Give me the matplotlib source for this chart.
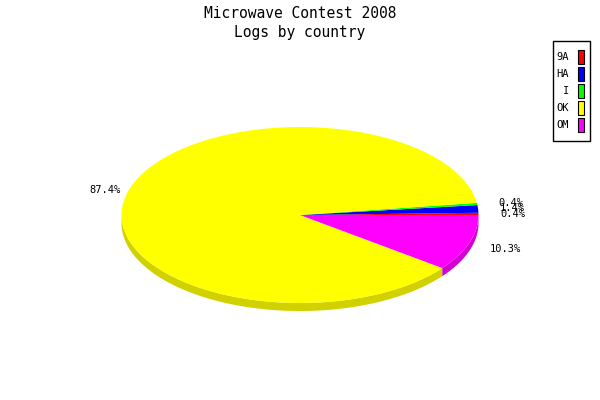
import numpy as np
import matplotlib.pyplot as plt
from matplotlib.patches import Polygon, Rectangle

# chart data
title_lines = ["Microwave Contest 2008", "Logs by country"]
countries = ["9A", "HA", "I", "OK", "OM"]
shares = [0.4, 1.4, 0.4, 87.4, 10.3]
colors = ["#ff0000", "#0000ff", "#00ff00", "#ffff00", "#ff00ff"]

MONO = "DejaVu Sans Mono"


def darker(hexcol, k=0.82):
    r, g, b = (int(hexcol[i:i + 2], 16) / 255 for i in (1, 3, 5))
    return (r * k, g * k, b * k)


fig = plt.figure(figsize=(6, 4), dpi=100)
ax = fig.add_axes([0, 0, 1, 1])
ax.set_xlim(0, 600)
ax.set_ylim(400, 0)
ax.axis("off")

# ellipse geometry of the 3d pie
cx, cy, rx, ry, depth = 300, 215, 178.5, 88, 8

total = sum(shares)
bounds = np.concatenate([[0], np.cumsum(shares) / total * 360])


def arc(a1, a2, dy=0):
    t = np.radians(np.linspace(a1, a2, max(int(abs(a2 - a1) * 2), 2)))
    return np.column_stack([cx + rx * np.cos(t), cy - ry * np.sin(t) + dy])


# side walls first (only the front half, 180..360 deg, is visible)
for i, col in enumerate(colors):
    a1, a2 = max(bounds[i], 180), min(bounds[i + 1], 360)
    if a2 <= a1:
        continue
    top = arc(a1, a2)
    bot = arc(a1, a2, depth)[::-1]
    ax.add_patch(Polygon(np.vstack([top, bot]), closed=True,
                         fc=darker(col), ec="none", zorder=2))

# top faces
for i, col in enumerate(colors):
    pts = np.vstack([[cx, cy], arc(bounds[i], bounds[i + 1])])
    ax.add_patch(Polygon(pts, closed=True, fc=col, ec="none", zorder=3))

# percentage labels, left aligned on the right side and vice versa
for i, s in enumerate(shares):
    mid = np.radians((bounds[i] + bounds[i + 1]) / 2)
    right = np.cos(mid) > 0
    fx = 1.12 if right else 1.04
    lx = cx + fx * rx * np.cos(mid)
    ly = cy - 1.12 * ry * np.sin(mid)
    if ly > cy + 20:
        ly += 3
    ax.text(lx, ly, f"{s:.1f}%", ha="left" if right else "right",
            va="center", fontsize=7.5, family=MONO, zorder=5)

# title
for k, line in enumerate(title_lines):
    ax.text(300, 14 + 18 * k, line, ha="center", va="center",
            fontsize=10.5, family=MONO, zorder=5)

# legend
ax.add_patch(Rectangle((553, 41), 37, 100, fc="white", ec="black",
                       lw=1, zorder=4))
for k, (name, col) in enumerate(zip(countries, colors)):
    y = 57 + 17 * k
    ax.text(569, y, name, ha="right", va="center", fontsize=7.5,
            family=MONO, zorder=5)
    ax.add_patch(Rectangle((578, y - 7), 6, 14, fc=col, ec="black",
                           lw=0.8, zorder=5))

fig.savefig("out.png", dpi=100)
